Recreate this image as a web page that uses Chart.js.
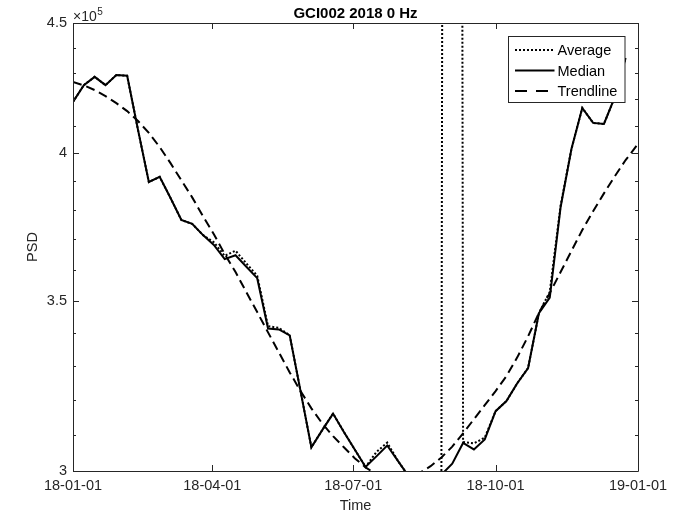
<!DOCTYPE html>
<html>
<head>
<meta charset="utf-8">
<script src="https://cdn.jsdelivr.net/npm/chart.js@4.4.0/dist/chart.umd.min.js"></script>
<style>
  html, body { margin: 0; padding: 0; background: #fff; }
  #wrap { width: 682px; height: 516px; position: relative; }
</style>
</head>
<body>
<div id="wrap"><canvas id="psdChart"></canvas></div>
<script>
// weekly samples, 2018
const dates = [
  "2018-01-01","2018-01-08","2018-01-15","2018-01-22","2018-01-29",
  "2018-02-05","2018-02-12","2018-02-19","2018-02-26",
  "2018-03-05","2018-03-12","2018-03-19","2018-03-26",
  "2018-04-02","2018-04-09","2018-04-16","2018-04-23","2018-04-30",
  "2018-05-07","2018-05-14","2018-05-21","2018-05-28",
  "2018-06-04","2018-06-11","2018-06-18","2018-06-25",
  "2018-07-02","2018-07-09","2018-07-16","2018-07-23","2018-07-30",
  "2018-08-06","2018-08-13","2018-08-20","2018-08-27",
  "2018-09-03","2018-09-10","2018-09-17","2018-09-24",
  "2018-10-01","2018-10-08","2018-10-15","2018-10-22","2018-10-29",
  "2018-11-05","2018-11-12","2018-11-19","2018-11-26",
  "2018-12-03","2018-12-10","2018-12-17","2018-12-24","2018-12-31"
];

// PSD values in units of 1e5 (null = no sample)
const median = [
  4.190, 4.254, 4.286, 4.254, 4.293, 4.290, 4.085, 3.897, 3.915, 3.841,
  3.765, 3.752, 3.714, 3.681, 3.634, 3.647, 3.609, 3.572, 3.413, 3.410,
  3.392, 3.225, 3.065, 3.113, 3.160, 3.108, 3.059, 3.011, 3.040, 3.070,
  3.027, 2.985, 2.930, 2.930, 2.990, 3.020, 3.077, 3.059, 3.087, 3.167,
  3.196, 3.248, 3.293, 3.461, 3.510, 3.809, 4.015, 4.167, 4.111, 4.107,
  4.208, 4.360, null
];
const average = [
  4.190, 4.254, 4.286, 4.254, 4.293, 4.290, 4.085, 3.897, 3.915, 3.841,
  3.765, 3.752, 3.714, 3.690, 3.645, 3.662, 3.620, 3.580, 3.420, 3.415,
  3.392, 3.225, 3.065, 3.113, 3.160, 3.108, 3.059, 3.011, 3.052, 3.078,
  3.027, 2.985, 2.930, 2.930, 2.995, 1000, 3.080, 3.076, 3.092, 3.167,
  3.196, 3.248, 3.293, 3.461, 3.528, 3.815, 4.015, 4.167, 4.111, 4.107,
  4.208, 4.360, null
];
const trendline = [
  4.266, 4.253, 4.235, 4.212, 4.185, 4.155, 4.118, 4.074, 4.022, 3.964,
  3.903, 3.843, 3.778, 3.717, 3.651, 3.592, 3.527, 3.464, 3.401, 3.340,
  3.280, 3.225, 3.175, 3.132, 3.096, 3.065, 3.035, 3.010, 2.991, 2.980,
  2.977, 2.983, 2.995, 3.013, 3.037, 3.067, 3.104, 3.144, 3.184, 3.225,
  3.269, 3.325, 3.389, 3.461, 3.524, 3.592, 3.661, 3.731, 3.795, 3.857,
  3.917, 3.975, 4.026
];
const SCALE = 1e5;

const xTickDates = ["2018-01-01", "2018-04-01", "2018-07-01", "2018-10-01", "2019-01-01"];
const xTickLabels = ["18-01-01", "18-04-01", "18-07-01", "18-10-01", "19-01-01"];
const yTickValues = [3, 3.5, 4, 4.5];
const yMinorValues = [3.1, 3.2, 3.3, 3.4, 3.6, 3.7, 3.8, 3.9, 4.1, 4.2, 4.3, 4.4];

const FONT = "'Liberation Sans', Arial, sans-serif";
const AXIS_COLOR = "#262626";

const t0 = Date.UTC(2018, 0, 1);
function dayOf(s) {
  const p = s.split("-").map(Number);
  return (Date.UTC(p[0], p[1] - 1, p[2]) - t0) / 86400000;
}
const days = dates.map(dayOf);
const xTickDays = xTickDates.map(dayOf);

function series(vals) {
  return vals.map((v, i) => ({ x: days[i], y: v === null ? null : v * SCALE }));
}

// box + inward ticks, exponent label, legend
const matlabAxes = {
  id: "matlabAxes",
  afterDatasetsDraw(chart) {
    const { ctx, chartArea: a, scales } = chart;
    const xs = scales.x, ys = scales.y;
    ctx.save();
    ctx.strokeStyle = AXIS_COLOR;
    ctx.lineWidth = 1;
    ctx.beginPath();
    ctx.rect(Math.round(a.left) + 0.5, Math.round(a.top) + 0.5,
      Math.round(a.right - a.left), Math.round(a.bottom - a.top));
    xTickDays.forEach(d => {
      const px = Math.round(xs.getPixelForValue(d)) + 0.5;
      ctx.moveTo(px, a.bottom); ctx.lineTo(px, a.bottom - 6);
      ctx.moveTo(px, a.top); ctx.lineTo(px, a.top + 6);
    });
    yTickValues.forEach(v => {
      const py = Math.round(ys.getPixelForValue(v * SCALE)) + 0.5;
      ctx.moveTo(a.left, py); ctx.lineTo(a.left + 6, py);
      ctx.moveTo(a.right, py); ctx.lineTo(a.right - 6, py);
    });
    yMinorValues.forEach(v => {
      const py = Math.round(ys.getPixelForValue(v * SCALE)) + 0.5;
      ctx.moveTo(a.left, py); ctx.lineTo(a.left + 3, py);
      ctx.moveTo(a.right, py); ctx.lineTo(a.right - 3, py);
    });
    ctx.stroke();

    // exponent
    ctx.fillStyle = AXIS_COLOR;
    ctx.textBaseline = "alphabetic";
    ctx.textAlign = "left";
    ctx.font = "14px " + FONT;
    ctx.fillText("\u00d710", a.left, a.top - 2);
    const w = ctx.measureText("\u00d710").width;
    ctx.font = "10px " + FONT;
    ctx.fillText("5", a.left + w + 0.5, a.top - 8);

    // legend
    const lx = 508.5, ly = 36.5, lw = 116.5, lh = 66;
    ctx.fillStyle = "#fff";
    ctx.fillRect(lx, ly, lw, lh);
    ctx.strokeStyle = AXIS_COLOR;
    ctx.lineWidth = 1;
    ctx.strokeRect(lx, ly, lw, lh);
    ctx.font = "14.5px " + FONT;
    ctx.textBaseline = "middle";
    chart.data.datasets.forEach((ds, i) => {
      const ry = ly + 13.5 + i * 20.5;
      ctx.strokeStyle = ds.borderColor;
      ctx.lineWidth = ds.borderWidth;
      ctx.setLineDash(ds.legendDash || ds.borderDash || []);
      ctx.beginPath();
      ctx.moveTo(lx + 6.5, ry);
      ctx.lineTo(lx + 46, ry);
      ctx.stroke();
      ctx.setLineDash([]);
      ctx.fillStyle = "#000";
      ctx.fillText(ds.label, lx + 49, ry + 1);
    });
    ctx.restore();
  }
};

Chart.defaults.font.family = FONT;
Chart.defaults.color = AXIS_COLOR;

new Chart(document.getElementById("psdChart"), {
  type: "line",
  data: {
    datasets: [
      {
        label: "Average",
        data: series(average),
        borderColor: "#000",
        borderWidth: 2,
        borderDash: [2, 2],
        legendDash: [2, 2],
        pointRadius: 0,
        tension: 0,
        clip: 0
      },
      {
        label: "Median",
        data: series(median),
        borderColor: "#000",
        borderWidth: 2,
        pointRadius: 0,
        tension: 0,
        clip: 0
      },
      {
        label: "Trendline",
        data: series(trendline),
        borderColor: "#000",
        borderWidth: 2,
        borderDash: [9, 5],
        legendDash: [12, 9],
        pointRadius: 0,
        tension: 0,
        clip: 0
      }
    ]
  },
  options: {
    responsive: true,
    maintainAspectRatio: false,
    animation: false,
    layout: { padding: { left: 0, right: 44, top: 0, bottom: 0 } },
    plugins: {
      legend: { display: false },
      tooltip: { enabled: false },
      title: {
        display: true,
        fullSize: false,
        text: "GCI002 2018 0 Hz",
        color: "#000",
        font: { size: 15, weight: "bold" },
        padding: { top: 5, bottom: 0 }
      }
    },
    scales: {
      x: {
        type: "linear",
        min: xTickDays[0],
        max: xTickDays[xTickDays.length - 1],
        afterBuildTicks: (scale) => {
          scale.ticks = xTickDays.map(v => ({ value: v }));
        },
        afterFit: (scale) => { scale.height = 45; },
        grid: { display: false, drawTicks: false },
        border: { display: false },
        ticks: {
          padding: 6,
          maxRotation: 0,
          autoSkip: false,
          color: AXIS_COLOR,
          font: { size: 14.5 },
          callback: (v) => xTickLabels[xTickDays.indexOf(v)]
        },
        title: {
          display: true,
          text: "Time",
          color: AXIS_COLOR,
          font: { size: 14.5 },
          padding: { top: 0, bottom: 1 }
        }
      },
      y: {
        type: "logarithmic",
        min: yTickValues[0] * SCALE,
        max: yTickValues[yTickValues.length - 1] * SCALE,
        afterBuildTicks: (scale) => {
          scale.ticks = yTickValues.map(v => ({ value: v * SCALE }));
        },
        afterFit: (scale) => { scale.width = 73; },
        grid: { display: false, drawTicks: false },
        border: { display: false },
        ticks: {
          padding: 6,
          autoSkip: false,
          color: AXIS_COLOR,
          font: { size: 14.5 },
          callback: (v) => String(Math.round(v / SCALE * 10) / 10)
        },
        title: {
          display: true,
          text: "PSD",
          color: AXIS_COLOR,
          font: { size: 14.5 },
          padding: { top: 24, bottom: 0 }
        }
      }
    }
  },
  plugins: [matlabAxes]
});
</script>
</body>
</html>
